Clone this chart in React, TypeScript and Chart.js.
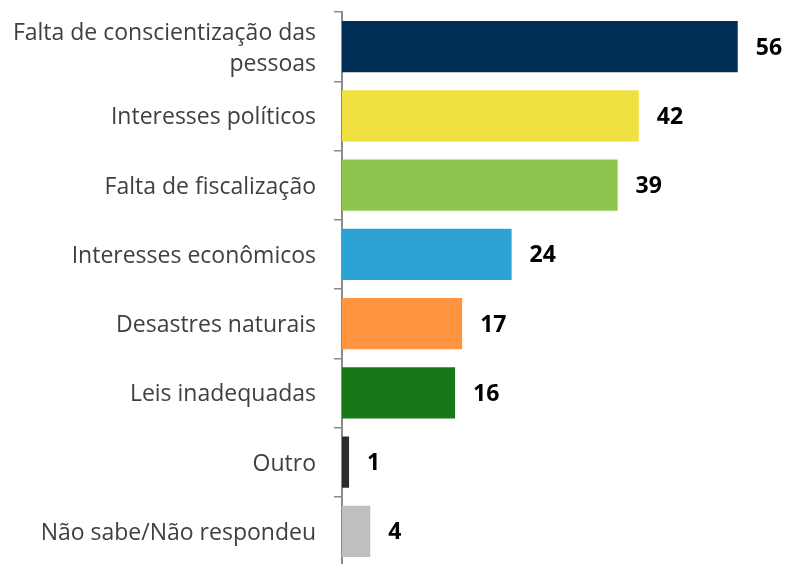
import React, { useEffect, useRef } from "react";
import { Chart, registerables } from "chart.js";

Chart.register(...registerables);

const categories: (string | string[])[] = [
  ["Falta de conscientização das", "pessoas"],
  "Interesses políticos",
  "Falta de fiscalização",
  "Interesses econômicos",
  "Desastres naturais",
  "Leis inadequadas",
  "Outro",
  "Não sabe/Não respondeu",
];
const values = [56, 42, 39, 24, 17, 16, 1, 4];
const valueLabels = ["56", "42", "39", "24", "17", "16", "1", "4"];
const barColors = [
  "#002E55",
  "#F0E042",
  "#8CC650",
  "#2CA2D5",
  "#FF9340",
  "#187818",
  "#2B2B2B",
  "#BFBFBF",
];

const valueLabelPlugin = {
  id: "valueLabels",
  afterDatasetsDraw(chart: any) {
    const ctx = chart.ctx;
    const meta = chart.getDatasetMeta(0);
    ctx.save();
    ctx.font = "bold 23px 'Open Sans', sans-serif";
    ctx.fillStyle = "#000000";
    ctx.textAlign = "left";
    ctx.textBaseline = "middle";
    meta.data.forEach((bar: any, i: number) => {
      ctx.fillText(valueLabels[i], bar.x + 18, bar.y + 1.5);
    });
    ctx.restore();
  },
};

export default function App() {
  const ref = useRef<HTMLCanvasElement | null>(null);
  useEffect(() => {
    if (!ref.current) return;
    const chart = new Chart(ref.current, {
      type: "bar",
      data: {
        labels: categories,
        datasets: [
          {
            data: values,
            backgroundColor: barColors,
            borderWidth: 0,
            barPercentage: 0.74,
            categoryPercentage: 1,
          },
        ],
      },
      options: {
        indexAxis: "y",
        responsive: false,
        animation: false,
        layout: { autoPadding: false, padding: { top: 12, right: 19, bottom: 0, left: 0 } },
        plugins: { legend: { display: false }, tooltip: { enabled: false } },
        scales: {
          x: {
            display: false,
            min: 0,
            max: 60,
          },
          y: {
            afterFit: (s: any) => {
              s.width = 342;
              s.paddingTop = 0;
              s.paddingBottom = 0;
            },
            grid: {
              drawOnChartArea: false,
              drawTicks: true,
              tickLength: 8,
              color: "#8A8A8A",
              lineWidth: 1.5,
            },
            border: { display: true, color: "#8A8A8A", width: 2 },
            ticks: {
              color: "#404040",
              padding: 18,
              labelOffset: 2,
              font: { family: "'Open Sans', sans-serif", size: 23, lineHeight: 1.35 },
            },
          },
        },
      },
      plugins: [valueLabelPlugin],
    });
    return () => chart.destroy();
  }, []);
  return (
    <div style={{ position: "absolute", left: 0, top: 0, width: 785, height: 566, background: "#ffffff" }}>
      <canvas ref={ref} width={785} height={566} />
    </div>
  );
}
